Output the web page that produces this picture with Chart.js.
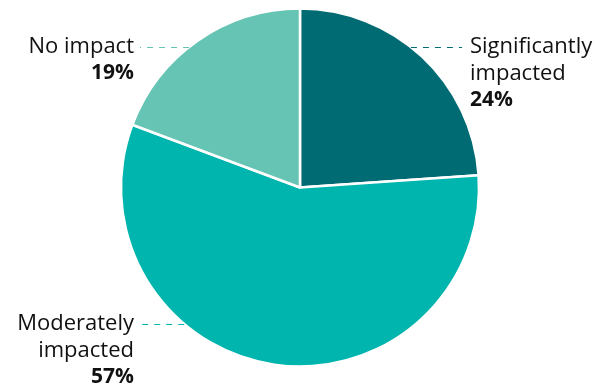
<!DOCTYPE html>
<html>
<head>
<meta charset="utf-8">
<script src="https://cdn.jsdelivr.net/npm/chart.js@4.4.1/dist/chart.umd.min.js"></script>
<style>
  html, body { margin: 0; padding: 0; background: #fff; }
  #wrap { width: 611px; height: 388px; position: relative; }
</style>
</head>
<body>
<div id="wrap"><canvas id="pie"></canvas></div>
<script>
  // ── Data ─────────────────────────────────────────────
  const categories = ["Significantly impacted", "Moderately impacted", "No impact"];
  const shares = [23.9, 56.8, 19.3];
  const shareLabels = ["24%", "57%", "19%"];
  const sliceColors = ["#006b73", "#00b5ad", "#66c4b4"];

  // label lines + leader row (y) + side, per slice
  const labelLines = [["Significantly", "impacted"], ["Moderately", "impacted"], ["No impact"]];
  const labelRows = [47, 324, 47];
  const labelSide = ["right", "left", "left"];

  const FONT = "'Open Sans', 'Noto Sans', sans-serif";

  const calloutPlugin = {
    id: "callouts",
    afterDraw(chart) {
      const ctx = chart.ctx;
      const arc = chart.getDatasetMeta(0).data[0];
      const cx = arc.x, cy = arc.y, r = arc.outerRadius;
      ctx.save();
      categories.forEach(function (name, i) {
        const y = labelRows[i];
        const dy = y - cy;
        const half = Math.sqrt(Math.max(r * r - dy * dy, 0));
        const lines = labelLines[i].concat([shareLabels[i]]);
        ctx.strokeStyle = sliceColors[i];
        ctx.lineWidth = 1;
        ctx.setLineDash([6, 6]);
        ctx.beginPath();
        let textX;
        if (labelSide[i] === "right") {
          ctx.moveTo(cx + half, y + 0.5);
          ctx.lineTo(462, y + 0.5);
          textX = 470;
          ctx.textAlign = "left";
        } else {
          ctx.moveTo(cx - half, y + 0.5);
          ctx.lineTo(140, y + 0.5);
          textX = 134;
          ctx.textAlign = "right";
        }
        ctx.stroke();
        ctx.setLineDash([]);
        ctx.textBaseline = "middle";
        ctx.fillStyle = "#111";
        lines.forEach(function (t, k) {
          const bold = k === lines.length - 1;
          ctx.font = (bold ? "bold 21px " : "22px ") + FONT;
          ctx.fillText(t, textX, y + k * 26.5);
        });
      });
      ctx.restore();
    },
  };

  new Chart(document.getElementById("pie"), {
    type: "pie",
    data: {
      labels: categories,
      datasets: [
        {
          data: shares,
          backgroundColor: sliceColors,
          borderColor: "#ffffff",
          borderWidth: 2.5,
        },
      ],
    },
    options: {
      responsive: true,
      maintainAspectRatio: false,
      animation: false,
      radius: 179,
      layout: { padding: { left: 0, right: 11, top: 0, bottom: 13 } },
      plugins: {
        legend: { display: false },
        tooltip: { enabled: false },
      },
    },
    plugins: [calloutPlugin],
  });
</script>
</body>
</html>
